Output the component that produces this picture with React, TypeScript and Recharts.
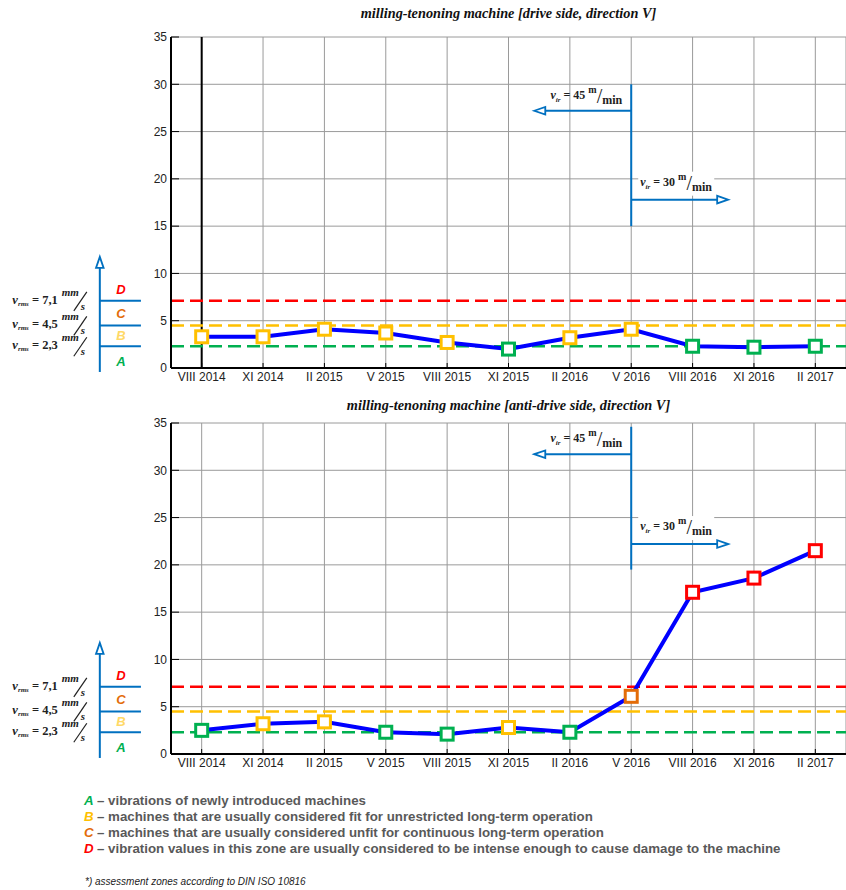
import React from 'react';
import { LineChart, Line, XAxis, YAxis, CartesianGrid, ReferenceLine } from 'recharts';

// survey dates (category axis)
const periods = ['VIII 2014', 'XI 2014', 'II 2015', 'V 2015', 'VIII 2015', 'XI 2015', 'II 2016', 'V 2016', 'VIII 2016', 'XI 2016', 'II 2017'];

// v_rms [mm/s]
const driveSide = [3.3, 3.3, 4.1, 3.7, 2.7, 2.0, 3.2, 4.1, 2.3, 2.2, 2.3];
const driveZones = ['B', 'B', 'B', 'B', 'B', 'A', 'B', 'B', 'A', 'A', 'A'];
const antiDriveSide = [2.5, 3.2, 3.4, 2.3, 2.1, 2.8, 2.3, 6.1, 17.1, 18.6, 21.5];
const antiDriveZones = ['A', 'B', 'B', 'A', 'A', 'B', 'A', 'C', 'D', 'D', 'D'];

const yTicks = [0, 5, 10, 15, 20, 25, 30, 35];
const xTicks = periods.map((_, i) => i);

// ISO 10816 zone limits
const zoneLimits = [7.1, 4.5, 2.3];
const zoneLimitLabels = ['7,1', '4,5', '2,3'];
const zoneLetters = ['D', 'C', 'B', 'A'];
const zoneLetterLevels = [8.3, 5.8, 3.45, 0.75];

// feed-speed change annotation: [vertical top, vertical bottom, left arrow, right arrow]
const driveAnnot = [30, 15, 27.2, 17.8];
const antiDriveAnnot = [34.6, 19.5, 31.7, 22.2];

const BLUE = '#0070c0';
const zoneColor: Record<string, string> = { A: '#00b050', B: '#ffc000', C: '#e36c09', D: '#ff0000' };
const letterColor: Record<string, string> = { A: '#00b050', B: '#ffd966', C: '#e36c09', D: '#ff0000' };
const legendColor: Record<string, string> = { A: '#00b050', B: '#ffc000', C: '#e36c09', D: '#ff0000' };
const limitColor = ['#ff0000', '#ffc000', '#00b050'];

const SANS = '"Liberation Sans", Arial, sans-serif';
const SERIF = '"Liberation Serif", "Times New Roman", serif';

const arrowHead = (x1: number, y1: number, x2: number, y2: number) => {
  const ang = Math.atan2(y2 - y1, x2 - x1);
  const L = 11, W = 3.8;
  const bx = x2 - L * Math.cos(ang), by = y2 - L * Math.sin(ang);
  const px = -Math.sin(ang) * W, py = Math.cos(ang) * W;
  return (
    <g>
      <line x1={x1} y1={y1} x2={bx} y2={by} stroke={BLUE} strokeWidth={2} />
      <polygon points={`${x2},${y2} ${bx + px},${by + py} ${bx - px},${by - py}`} fill="#fff" stroke={BLUE} strokeWidth={1.8} />
    </g>
  );
};

const SpeedLabel = ({ x, y, value, anchor }: { x: number; y: number; value: string; anchor: 'start' | 'end' }) => (
  <text x={x} y={y} textAnchor={anchor} fontFamily={SERIF} fontWeight="bold" fontSize={12} fill="#222">
    <tspan fontStyle="italic">v</tspan>
    <tspan fontSize={7} fontStyle="italic" dy={3}>ir</tspan>
    <tspan dy={-3}>{' = ' + value + ' '}</tspan>
    <tspan fontSize={10} dy={-6}>m</tspan>
    <tspan fontSize={20} fontWeight="normal" dy={10}>/</tspan>
    <tspan dy={1}>min</tspan>
  </text>
);

// label "v_rms = x mm/s"; (x, y) = left end of the blue zone tick
const LimitLabel = ({ x, y, value }: { x: number; y: number; value: string }) => (
  <g fontFamily={SERIF} fontWeight="bold" fill="#222">
    <text x={x - 42} y={y + 3} textAnchor="end" fontSize={12.5}>
      <tspan fontStyle="italic">v</tspan>
      <tspan fontSize={7} fontStyle="italic" dy={2}>rms</tspan>
      <tspan dy={-2}>{' = ' + value}</tspan>
    </text>
    <text x={x - 38} y={y - 5} fontSize={11} fontStyle="italic">mm</text>
    <line x1={x - 26} y1={y + 10} x2={x - 13} y2={y - 9} stroke="#222" strokeWidth={1.2} />
    <text x={x - 19} y={y + 9} fontSize={11} fontStyle="italic">s</text>
  </g>
);

interface PanelProps {
  values: number[];
  zones: string[];
  annot: number[];
  markFirst?: boolean;
}

const Panel: React.FC<PanelProps> = ({ values, zones, annot, markFirst }) => {
  const data = values.map((v, i) => ({ i, v, zone: zones[i] }));
  const vx = periods.indexOf('V 2016');
  const axisX = -1.66;

  const renderDot = (p: any) => (
    <rect
      key={`dot-${p.index}`}
      x={p.cx - 6}
      y={p.cy - 6}
      width={12}
      height={12}
      fill="#fff"
      stroke={zoneColor[p.payload.zone]}
      strokeWidth={3}
    />
  );

  return (
    <LineChart width={846} height={386} data={data} margin={{ top: 37, right: 0, bottom: 0, left: 141 }}>
      <CartesianGrid stroke="#9a9a9a" strokeWidth={1} />
      <XAxis
        dataKey="i"
        type="number"
        domain={[-0.5, 10.5]}
        ticks={xTicks}
        interval={0}
        height={18}
        tickFormatter={(i: number) => periods[i]}
        tickSize={-5}
        tickMargin={9}
        axisLine={{ stroke: '#000', strokeWidth: 2 }}
        tickLine={{ stroke: '#000' }}
        tick={{ fontSize: 12, fill: '#222', fontFamily: SANS }}
      />
      <XAxis
        xAxisId="top"
        orientation="top"
        dataKey="i"
        type="number"
        domain={[-0.5, 10.5]}
        ticks={xTicks}
        height={0}
        tickFormatter={() => ''}
        tickSize={-5}
        axisLine={{ stroke: '#000', strokeWidth: 2 }}
        tickLine={{ stroke: '#000' }}
      />
      <YAxis
        width={30}
        domain={[0, 35]}
        ticks={yTicks}
        interval={0}
        tickSize={-8}
        tickMargin={12}
        axisLine={{ stroke: '#000', strokeWidth: 2 }}
        tickLine={{ stroke: '#000' }}
        tick={{ fontSize: 12, fill: '#222', fontFamily: SANS }}
      />
      {markFirst && <ReferenceLine x={0} stroke="#000" strokeWidth={2} />}

      {/* zone limits */}
      {zoneLimits.map((lim, k) => (
        <ReferenceLine key={`lim-${k}`} y={lim} stroke={limitColor[k]} strokeWidth={2.5} strokeDasharray="13 6" />
      ))}

      {/* zone scale on the left */}
      <ReferenceLine
        segment={[{ x: axisX, y: -0.42 }, { x: axisX, y: 11.75 }]}
        ifOverflow="visible"
        shape={(p: any) => arrowHead(p.x1, p.y1, p.x2, p.y2)}
      />
      {zoneLimits.map((lim, k) => (
        <ReferenceLine
          key={`tick-${k}`}
          segment={[{ x: axisX, y: lim }, { x: -0.99, y: lim }]}
          ifOverflow="visible"
          shape={(p: any) => (
            <g>
              <line x1={p.x1} y1={p.y1} x2={p.x2} y2={p.y2} stroke={BLUE} strokeWidth={2} />
              <LimitLabel x={p.x1} y={p.y1} value={zoneLimitLabels[k]} />
            </g>
          )}
        />
      ))}
      {zoneLetters.map((z, k) => (
        <ReferenceLine
          key={`zone-${z}`}
          segment={[{ x: -1.315, y: zoneLetterLevels[k] }, { x: -1.315, y: zoneLetterLevels[k] }]}
          ifOverflow="visible"
          shape={(p: any) => (
            <text x={p.x1} y={p.y1} dy="0.36em" textAnchor="middle" fontFamily={SANS} fontWeight="bold" fontStyle="italic" fontSize={13} fill={letterColor[z]}>
              {z}
            </text>
          )}
        />
      ))}

      {/* feed speed change */}
      <ReferenceLine segment={[{ x: vx, y: annot[0] }, { x: vx, y: annot[1] }]} stroke={BLUE} strokeWidth={2} />
      <ReferenceLine
        segment={[{ x: vx, y: annot[2] }, { x: vx - 1.58, y: annot[2] }]}
        shape={(p: any) => (
          <g>
            {arrowHead(p.x1, p.y1, p.x2, p.y2)}
            <SpeedLabel x={p.x1 - 9} y={p.y1 - 12} value="45" anchor="end" />
          </g>
        )}
      />
      <ReferenceLine
        segment={[{ x: vx, y: annot[3] }, { x: vx + 1.58, y: annot[3] }]}
        shape={(p: any) => (
          <g>
            <rect x={p.x1 + 7} y={p.y1 - 28} width={76} height={24} fill="#fff" />
            {arrowHead(p.x1, p.y1, p.x2, p.y2)}
            <SpeedLabel x={p.x1 + 9} y={p.y1 - 14} value="30" anchor="start" />
          </g>
        )}
      />

      <Line
        type="linear"
        dataKey="v"
        stroke="#0000ff"
        strokeWidth={4}
        dot={renderDot}
        activeDot={false}
        isAnimationActive={false}
      />
    </LineChart>
  );
};

const legendRows = [
  ['A', 'vibrations of newly introduced machines'],
  ['B', 'machines that are usually considered fit for unrestricted long-term operation'],
  ['C', 'machines that are usually considered unfit for continuous long-term operation'],
  ['D', 'vibration values in this zone are usually considered to be intense enough to cause damage to the machine'],
];

const titleStyle: React.CSSProperties = {
  position: 'absolute',
  left: 171,
  width: 675,
  textAlign: 'center',
  fontFamily: SERIF,
  fontWeight: 'bold',
  fontStyle: 'italic',
  fontSize: 14.3,
  lineHeight: '16px',
  color: '#111',
};

export default function App() {
  return (
    <div style={{ position: 'absolute', left: 0, top: 0, width: 846, height: 890, background: '#fff', overflow: 'hidden' }}>
      <div style={{ ...titleStyle, top: 5 }}>milling-tenoning machine [drive side, direction V]</div>
      <div style={{ position: 'absolute', left: 0, top: 0 }}>
        <Panel values={driveSide} zones={driveZones} annot={driveAnnot} markFirst />
      </div>
      <div style={{ ...titleStyle, top: 397 }}>milling-tenoning machine [anti-drive side, direction V]</div>
      <div style={{ position: 'absolute', left: 0, top: 386 }}>
        <Panel values={antiDriveSide} zones={antiDriveZones} annot={antiDriveAnnot} />
      </div>
      <div style={{ position: 'absolute', left: 84, top: 793, fontFamily: SANS, fontSize: 13.3, fontWeight: 'bold', color: '#595959', lineHeight: '16px' }}>
        {legendRows.map(([z, txt]) => (
          <div key={z} style={{ whiteSpace: 'nowrap' }}>
            <span style={{ color: legendColor[z], fontStyle: 'italic', display: 'inline-block', width: 13 }}>{z}</span>
            <span>{'– ' + txt}</span>
          </div>
        ))}
      </div>
      <div style={{ position: 'absolute', left: 85, top: 876, fontFamily: SANS, fontSize: 10, fontStyle: 'italic', color: '#222' }}>
        *) assessment zones according to DIN ISO 10816
      </div>
    </div>
  );
}
